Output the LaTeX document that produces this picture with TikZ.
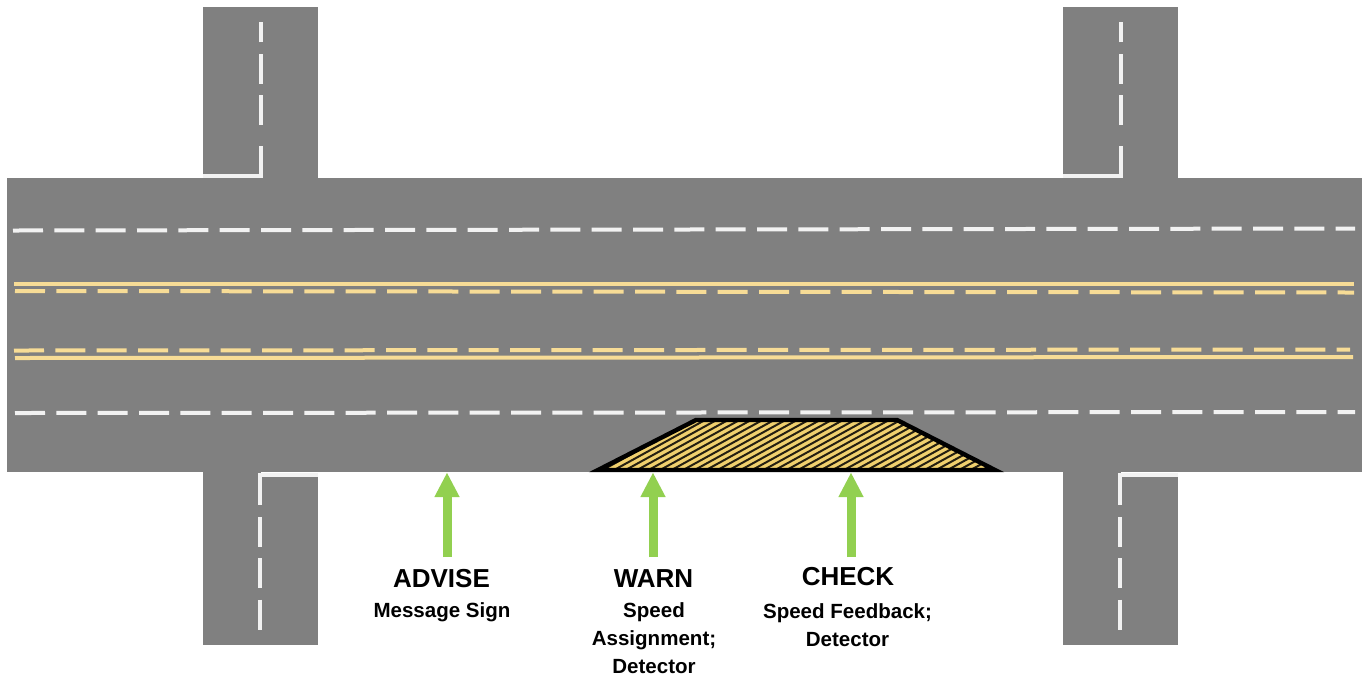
\documentclass[tikz,border=0pt]{standalone}
\usepackage{fontspec}
\setmainfont{Liberation Sans}
\usepackage{tikz}
\usetikzlibrary{arrows.meta,positioning,calc}
\definecolor{roadgray}{RGB}{128,128,128}
\definecolor{lineyellow}{RGB}{247,220,150}
\definecolor{hatchyellow}{RGB}{240,208,110}
\definecolor{arrowgreen}{RGB}{146,208,80}
\definecolor{linewhite}{RGB}{242,242,242}
\begin{document}
\begin{tikzpicture}[x=0.75pt, y=-0.75pt,
  road/.style={fill=roadgray, draw=none},
  lane/.style={linewhite, line width=3pt, dash pattern=on 22.5pt off 8.5pt},
  edgeln/.style={linewhite, line width=2.4pt},
  ysolid/.style={lineyellow, line width=3pt},
  ydash/.style={lineyellow, line width=3pt, dash pattern=on 22.5pt off 8.5pt},
  signal/.style={arrowgreen, line width=6.75pt, -{Triangle[length=18.5pt, width=17.5pt]}, shorten >=-0.5pt},
  head/.style={font=\bfseries\fontsize{19.5}{21}\selectfont, inner sep=0pt, anchor=base},
  sublab/.style={font=\bfseries\fontsize{15.4}{21}\selectfont, inner sep=0pt, align=center},
]
\useasboundingbox (0,0) rectangle (1362,676);
% pavement
\fill[road] (7,178) rectangle (1362,472);
\fill[road] (203,7) rectangle (318,178);
\fill[road] (1063,7) rectangle (1178,178);
\fill[road] (203,472) rectangle (318,645);
\fill[road] (1063,472) rectangle (1178,645);
% lane lines
\draw[lane] (13,230.5) -- (1355,228.5);
\draw[lane] (15,413) -- (1355,412);
\draw[ysolid] (14,283.5) -- (1354,283.5);
\draw[ydash] (15,291) -- (1354,292.5);
\draw[ydash] (14,350.5) -- (1350,349.5);
\draw[ysolid] (15,358) -- (1353,357);
% side road lines
\foreach \sx in {261,1121} {
  \draw[edgeln] (\sx-58,176) -- (\sx,176) -- (\sx,146);
  \draw[lane] (\sx,125) -- (\sx,22);
  \fill[white] (\sx,476) rectangle (\sx+57,472);
  \draw[edgeln] (\sx+57,475) -- (\sx-1,475) -- (\sx-1,505);
  \draw[lane] (\sx-1,517) -- (\sx-1,630);
}
% taper
\begin{scope}
  \clip (598,470) -- (696,420) -- (897,420) -- (995,470) -- cycle;
  \fill[hatchyellow] (598,470) -- (696,420) -- (897,420) -- (995,470) -- cycle;
  \foreach \hx in {530,541.5,...,1000} {
    \draw[black!85!hatchyellow, line width=1.5pt] (\hx,472) -- (\hx+100,417);
  }
\end{scope}
\draw[black, line width=3.3pt, line join=miter] (598,470) -- (696,420) -- (897,420) -- (995,470) -- cycle;
% labels
\node[head] (advise) at (441.5,587.5) {ADVISE};
\node[sublab] (advisesub) at (442,612) {Message Sign};
\node[head] (warn) at (653.5,587.5) {WARN};
\node[sublab] (warnsub) at (654,638.5) {Speed\\Assignment;\\Detector};
\node[head] (check) at (848,585.5) {CHECK};
\node[sublab] (checksub) at (847.5,625) {Speed Feedback;\\Detector};
% arrows
\coordinate (advisetail) at (447,557);
\coordinate (advisetip) at (447,473);
\coordinate (warntail) at (653,557);
\coordinate (warntip) at (653,473);
\coordinate (checktail) at (851,557);
\coordinate (checktip) at (851,473);
\draw[signal] (advisetail) -- (advisetip);
\draw[signal] (warntail) -- (warntip);
\draw[signal] (checktail) -- (checktip);
\end{tikzpicture}
\end{document}
